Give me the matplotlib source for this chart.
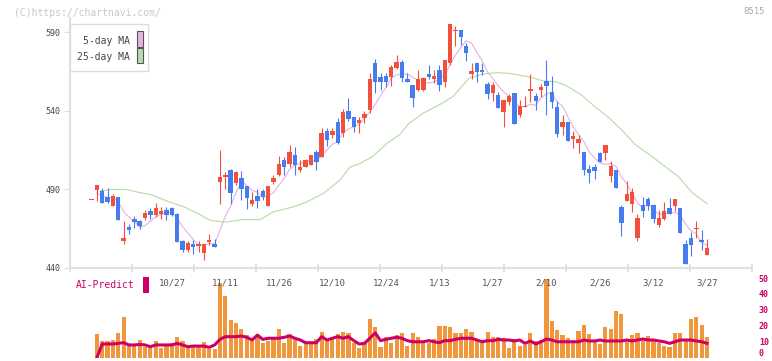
import numpy as np
import pandas as pd
import matplotlib
matplotlib.use("Agg")
import matplotlib.pyplot as plt
import matplotlib.patches as mpatches
import matplotlib.transforms as mtrans

# daily candles, oldest first
opens = [483.1, 489.5, 489.0, 485.2, 479.3, 485.2, 457.2, 466.4, 471.0, 469.9,
         472.1, 476.1, 473.6, 474.2, 476.7, 478.5, 474.2, 457.2, 451.2, 455.5,
         453.8, 449.5, 456.4, 455.1, 494.8, 497.6, 502.2, 493.8, 497.0, 492.0,
         480.6, 485.7, 488.9, 479.3, 494.6, 499.0, 508.9, 506.1, 511.8, 502.2,
         504.3, 505.4, 513.7, 510.7, 527.1, 524.5, 532.8, 525.6, 539.8, 535.8,
         532.0, 535.6, 540.5, 570.6, 561.3, 562.1, 561.7, 567.4, 571.3, 560.0,
         556.4, 553.2, 553.2, 563.4, 560.0, 566.0, 558.5, 570.2, 591.0, 591.5,
         581.3, 563.4, 570.6, 566.0, 557.1, 551.5, 550.1, 539.4, 545.8, 551.5,
         537.3, 542.7, 552.6, 549.4, 553.2, 559.0, 552.1, 542.6, 529.8, 533.0,
         521.8, 519.6, 513.9, 502.7, 504.0, 513.3, 513.3, 498.4, 502.2, 478.9,
         482.7, 481.0, 459.1, 479.9, 483.6, 479.9, 467.2, 471.0, 478.2, 479.3,
         478.2, 455.1, 458.9, 464.6, 457.6, 448.5]
closes = [483.1, 492.7, 481.4, 482.0, 485.7, 470.4, 459.3, 464.4, 469.3, 466.7,
          475.0, 473.6, 478.5, 476.3, 473.6, 473.6, 456.5, 451.7, 455.9, 453.4,
          455.5, 455.5, 458.1, 453.4, 498.0, 499.5, 487.8, 501.2, 490.0, 484.6,
          483.1, 482.5, 485.2, 492.0, 497.3, 506.5, 504.3, 513.7, 505.4, 504.3,
          508.9, 511.8, 507.5, 526.0, 521.4, 527.1, 519.3, 539.2, 534.9, 529.8,
          534.1, 537.9, 560.0, 558.5, 558.5, 558.5, 568.1, 571.3, 560.7, 558.5,
          547.9, 560.0, 560.7, 561.7, 562.1, 556.4, 572.3, 595.3, 591.2, 586.8,
          577.0, 565.5, 564.9, 564.9, 550.7, 556.4, 542.0, 546.9, 549.5, 531.6,
          543.0, 543.2, 553.9, 546.2, 555.3, 556.0, 545.8, 525.2, 533.0, 520.9,
          523.9, 521.8, 502.2, 500.5, 501.8, 507.5, 518.2, 504.8, 490.6, 468.6,
          486.9, 488.4, 471.8, 476.3, 479.3, 471.4, 471.8, 476.1, 474.2, 484.2,
          462.3, 442.8, 454.9, 464.9, 456.5, 452.7]
highs = [483.1, 493.0, 490.6, 490.6, 486.9, 485.5, 469.7, 467.8, 472.9, 470.8,
         476.7, 478.5, 481.4, 478.8, 478.8, 479.0, 475.0, 458.1, 457.5, 458.1,
         457.5, 455.5, 461.9, 458.7, 515.0, 501.0, 503.0, 502.0, 502.0, 492.5,
         488.4, 490.0, 490.0, 492.0, 499.0, 511.2, 510.7, 518.2, 517.1, 508.9,
         509.5, 512.0, 515.0, 529.2, 528.8, 529.0, 535.2, 540.9, 547.9, 535.8,
         535.8, 540.0, 564.3, 572.8, 563.9, 564.3, 569.2, 575.5, 572.3, 564.0,
         556.4, 566.0, 561.5, 569.2, 566.0, 569.2, 572.3, 595.5, 594.0, 591.5,
         583.4, 570.6, 570.6, 570.6, 558.5, 558.5, 552.1, 546.9, 550.7, 551.5,
         546.9, 549.4, 563.4, 551.5, 557.1, 572.3, 562.1, 546.4, 537.3, 533.0,
         527.3, 524.5, 513.9, 505.4, 506.5, 514.0, 518.2, 508.2, 502.2, 479.9,
         495.4, 491.2, 474.6, 485.2, 485.2, 481.0, 476.7, 482.0, 484.8, 484.2,
         478.2, 457.6, 462.9, 469.9, 464.4, 458.7]
lows = [483.1, 482.7, 481.4, 481.4, 479.3, 470.4, 455.1, 461.9, 465.7, 465.1,
        470.4, 471.5, 472.5, 471.5, 470.4, 473.0, 456.5, 450.2, 450.5, 449.2,
        450.0, 445.0, 454.4, 453.4, 481.0, 490.0, 481.0, 493.0, 483.0, 477.8,
        479.3, 478.5, 483.1, 479.3, 493.3, 498.4, 499.0, 504.3, 499.0, 501.2,
        504.0, 505.4, 502.2, 510.7, 517.5, 523.0, 518.6, 523.5, 533.7, 526.6,
        525.6, 532.0, 538.8, 551.5, 553.2, 555.3, 555.8, 566.4, 558.5, 558.5,
        542.2, 552.8, 552.8, 560.0, 557.5, 552.8, 555.5, 569.5, 581.3, 581.9,
        571.9, 560.0, 558.5, 562.8, 547.3, 546.4, 541.6, 529.8, 543.7, 531.6,
        535.8, 542.2, 545.8, 540.5, 548.6, 537.3, 541.6, 523.5, 524.5, 520.9,
        516.1, 512.9, 499.0, 493.8, 496.9, 507.5, 508.6, 494.8, 490.6, 460.2,
        482.7, 475.7, 457.2, 472.5, 477.0, 468.6, 466.1, 470.4, 474.2, 476.3,
        462.3, 442.8, 447.6, 459.1, 451.3, 448.5]

# volume (bottom panel) and AI-Predict line, same days
volumes = [0, 14.9, 10.5, 10.5, 11.1, 15.7, 25.7, 7.3, 7.3, 11.1,
           6.5, 7.3, 10.5, 6.3, 7.3, 9.0, 13.2, 10.7, 6.5, 6.5,
           6.5, 10.0, 5.3, 5.3, 47.0, 38.7, 23.7, 22.0, 18.0, 14.5,
           10.5, 14.2, 9.4, 10.7, 13.2, 18.0, 9.4, 14.9, 12.2, 7.5,
           9.4, 9.4, 11.5, 16.3, 10.7, 11.5, 14.9, 16.3, 15.3, 9.4,
           5.9, 9.0, 24.3, 19.0, 6.9, 13.2, 9.4, 14.0, 15.3, 7.3,
           15.3, 12.8, 9.4, 9.4, 11.5, 19.9, 19.9, 19.0, 15.3, 15.3,
           17.8, 15.9, 11.5, 9.4, 15.9, 12.8, 12.8, 12.5, 6.3, 11.7,
           7.3, 8.0, 15.7, 10.5, 11.1, 49.4, 23.0, 17.4, 14.2, 12.5,
           10.5, 16.8, 20.5, 14.9, 10.5, 8.6, 19.5, 18.0, 29.3, 27.4,
           10.5, 14.2, 15.7, 10.5, 13.6, 10.5, 9.0, 7.3, 6.5, 15.7,
           15.7, 10.5, 24.3, 25.5, 20.5, 13.0]
ai_predict = [np.nan, 0.0, 8.6, 8.6, 8.6, 9.0, 9.4, 8.0, 8.0, 8.3,
              8.0, 6.9, 8.0, 8.0, 8.0, 8.0, 9.0, 8.0, 6.9, 7.3,
              7.3, 7.3, 6.5, 8.0, 11.5, 13.2, 13.2, 13.2, 13.6, 12.8,
              11.1, 14.2, 11.5, 12.2, 12.2, 12.2, 12.8, 13.6, 12.2, 11.1,
              9.4, 9.4, 9.4, 13.2, 11.1, 12.2, 13.2, 12.2, 13.2, 10.7,
              8.6, 9.0, 12.2, 15.6, 10.7, 11.5, 12.2, 12.8, 12.2, 10.7,
              10.0, 10.0, 10.0, 10.7, 10.0, 9.4, 10.7, 10.7, 11.5, 12.2,
              12.2, 12.2, 11.1, 10.0, 10.7, 10.7, 11.5, 11.1, 11.1, 10.5,
              11.1, 9.0, 10.5, 8.6, 10.0, 11.7, 11.1, 10.0, 10.0, 10.0,
              10.0, 10.0, 11.1, 10.5, 10.5, 11.1, 10.5, 10.5, 10.5, 10.5,
              11.1, 10.5, 11.1, 11.7, 11.1, 11.1, 10.5, 10.0, 9.0, 10.0,
              11.1, 11.1, 11.1, 10.5, 10.0, 9.0]

# 25-day MA (day index, value)
ma25_day = [1.6, 3.6, 6.3, 8.5, 11.3, 14.3, 17.3, 19.9, 22.1, 24.4, 25.3, 28.1,
            31.5, 33.9, 37.7, 40.2, 43.3, 46.4, 48.3, 50.2, 52.6, 55.2, 57.6,
            59.3, 61.9, 64.9, 67.5, 70.5, 73.1, 75.6, 78.0, 81.7, 84.4, 86.8,
            88.5, 91.6, 94.1, 96.7, 99.1, 101.6, 104.7, 107.2, 109.7, 112.2, 115.0]
ma25_val = [489.0, 490.0, 490.0, 488.4, 486.5, 482.3, 478.9, 474.6, 470.4, 469.3,
            469.3, 470.8, 470.8, 475.7, 478.9, 482.0, 487.4, 495.9, 504.3, 506.5,
            511.2, 519.3, 525.0, 532.0, 538.4, 543.7, 549.0, 560.7, 563.4, 564.3,
            563.9, 561.7, 559.0, 558.5, 556.4, 550.0, 542.5, 535.5, 527.7, 518.5,
            511.0, 504.5, 498.0, 488.0, 481.0]

date_day = [15, 25, 35, 45, 55, 65, 75, 85, 95, 105, 115]
date_labels = ["10/27", "11/11", "11/26", "12/10", "12/24", "1/13",
               "1/27", "2/10", "2/26", "3/12", "3/27"]

RED = '#f0503c'
BLUE = '#457cf0'
MAGENTA = '#cc0066'
MONO = 'DejaVu Sans Mono'

W, H = 772, 361
def box(x0, y0, x1, y1):
	return [x0 / W, 1 - y1 / H, (x1 - x0) / W, (y1 - y0) / H]

o = np.array(opens); c = np.array(closes)
hi = np.array(highs); lo = np.array(lows)
days = np.arange(len(o))
up = c >= o
cols = np.where(up, RED, BLUE)
ma5 = pd.Series(c).rolling(5, min_periods=1).mean().values

fig = plt.figure(figsize=(W / 100, H / 100), dpi=100)
xlim = (-4.02, 123.4)

# price panel
ax = fig.add_axes(box(70, 18, 752, 268))
ax.set_xlim(*xlim)
ax.set_ylim(440, 599.1)
for s in ['top', 'right']:
	ax.spines[s].set_visible(False)
for s in ['left', 'bottom']:
	ax.spines[s].set_color('#e0e0e0')
	ax.spines[s].set_linewidth(1.5)
ax.set_yticks([440, 490, 540, 590])
ax.tick_params(axis='y', length=4, color='#dddddd', labelsize=6, labelcolor='#444444', pad=3)
ax.set_xticks(np.linspace(xlim[0], xlim[1], 12))
ax.tick_params(axis='x', direction='inout', length=6, width=1.2, color='#dddddd', labelbottom=False)
for lab in ax.get_yticklabels():
	lab.set_family(MONO)

ax.plot(days[1:], ma5[1:], color='#e6b0e6', lw=0.8, zorder=2)
ax.plot(ma25_day, ma25_val, color='#b5dba5', lw=0.8, zorder=2)
ax.vlines(days, lo, hi, colors=cols, lw=0.8, zorder=3)
body = np.maximum(np.abs(c - o), 0.6)
ax.bar(days, body, bottom=np.minimum(o, c), width=0.82, color=cols, zorder=4)

# legend box
fig.add_artist(mpatches.Rectangle((70 / W, 1 - 71 / H), 78 / W, 47 / H, transform=fig.transFigure,
	facecolor='white', edgecolor='#dddddd', lw=1, zorder=5))
fig.add_artist(mpatches.Rectangle((136.5 / W, 1 - 46.5 / H), 6 / W, 15 / H, transform=fig.transFigure,
	facecolor='#e8b4e8', edgecolor='#555555', lw=0.8, zorder=6))
fig.add_artist(mpatches.Rectangle((136.5 / W, 1 - 63 / H), 6 / W, 15 / H, transform=fig.transFigure,
	facecolor='#b8dca8', edgecolor='#555555', lw=0.8, zorder=6))
fig.text(130 / W, 1 - 41 / H, "5-day MA", ha='right', va='center', fontsize=7, family=MONO, color='#444444', zorder=6)
fig.text(130 / W, 1 - 57 / H, "25-day MA", ha='right', va='center', fontsize=7, family=MONO, color='#444444', zorder=6)

fig.text(14 / W, 1 - 13 / H, "(C)https://chartnavi.com/", ha='left', va='center', fontsize=7, family=MONO, color='#c8c8c8')
fig.text(765 / W, 1 - 12 / H, "8515", ha='right', va='center', fontsize=6.5, family=MONO, color='#aaaaaa')

# volume / AI-Predict panel
ax2 = fig.add_axes(box(70, 278, 752, 357.7))
ax2.set_xlim(*xlim)
ax2.set_ylim(0, 50)
for s in ax2.spines.values():
	s.set_visible(False)
ax2.set_xticks([])
ax2.yaxis.tick_right()
ax2.set_yticks([0, 10, 20, 30, 40, 50])
ax2.tick_params(axis='y', length=0, labelsize=6, labelcolor=MAGENTA, pad=5)
for lab in ax2.get_yticklabels():
	lab.set_family(MONO)
	lab.set_fontweight('bold')
# keep the "0" inside the canvas
ax2.get_yticklabels()[0].set_verticalalignment('bottom')
ax2.bar(days[1:], volumes[1:], width=0.78, color='#f0963c', zorder=2)
ax2.plot(days[1:], ai_predict[1:], color=MAGENTA, lw=2.2, zorder=3)

tr = mtrans.blended_transform_factory(ax2.transData, fig.transFigure)
for d, lab in zip(date_day, date_labels):
	ax2.text(d, 1 - 283 / H, lab, transform=tr, ha='center', va='center', fontsize=6.5,
		family=MONO, color='#555555', zorder=5, clip_on=False)

fig.text(76 / W, 1 - 285 / H, "AI-Predict", ha='left', va='center', fontsize=7, family=MONO, color=MAGENTA)
fig.add_artist(mpatches.Rectangle((143 / W, 1 - 293 / H), 6 / W, 16 / H, transform=fig.transFigure,
	facecolor=MAGENTA, edgecolor='none'))

fig.savefig('out.png', dpi=100)
